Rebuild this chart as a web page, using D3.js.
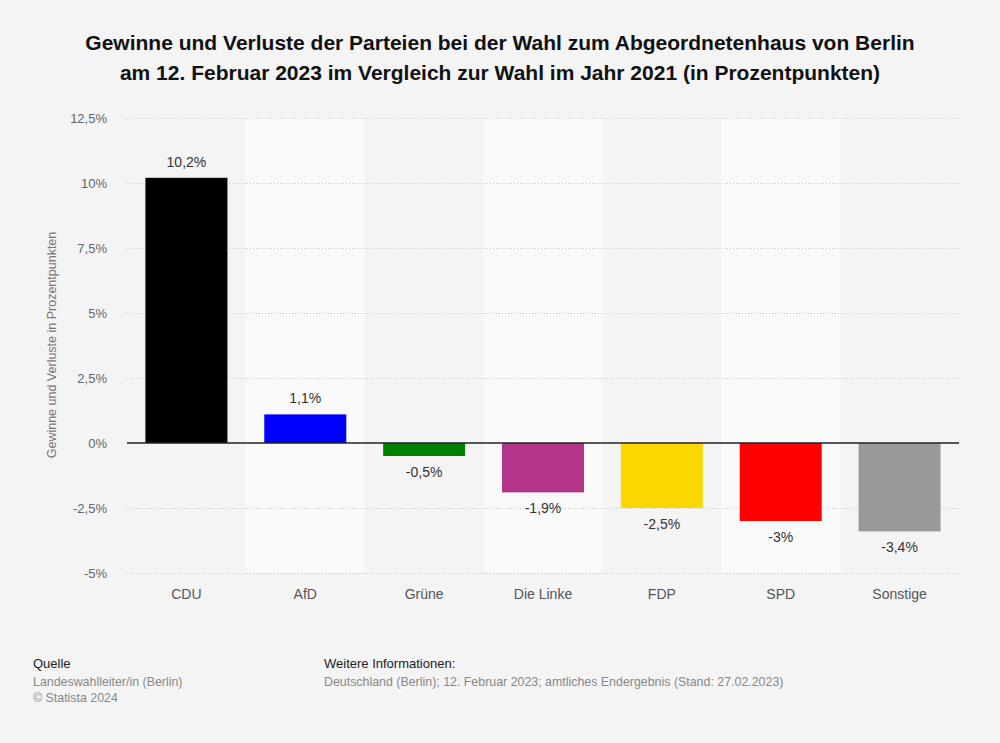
<!DOCTYPE html>
<html><head><meta charset="utf-8">
<script src="https://cdn.jsdelivr.net/npm/d3@7"></script>
<style>
body{margin:0;background:#f4f4f4;}
svg{display:block;font-family:"Liberation Sans",Arial,Helvetica,sans-serif;}
</style></head>
<body><svg id="c" width="1000" height="743"></svg>
<script>
const categories = ["CDU","AfD","Grüne","Die Linke","FDP","SPD","Sonstige"];
const values = [10.2, 1.1, -0.5, -1.9, -2.5, -3, -3.4];
const colors = ["#000000","#0000ff","#008000","#b3358a","#fdd800","#ff0000","#999999"];
const yTicks = [-5,-2.5,0,2.5,5,7.5,10,12.5];
const titleLines = ["Gewinne und Verluste der Parteien bei der Wahl zum Abgeordnetenhaus von Berlin","am 12. Februar 2023 im Vergleich zur Wahl im Jahr 2021 (in Prozentpunkten)"];
const yTitle = "Gewinne und Verluste in Prozentpunkten";

const fmt = v => String(v).replace(".", ",") + "%";
const svg = d3.select("#c");
svg.append("rect").attr("width",1000).attr("height",743).attr("fill","#f4f4f4");

const L=127, R=959, T=118, B=573;
const x = d3.scaleBand().domain(categories).range([L,R]).paddingInner(0.31).paddingOuter(0.155);
const xb = d3.scaleBand().domain(categories).range([L,R]);
const y = d3.scaleLinear().domain([-5,12.5]).range([B,T]);

// alternating bands
svg.append("g").selectAll("rect").data(categories.filter((d,i)=>i%2===1)).join("rect")
  .attr("x",d=>xb(d)).attr("y",T).attr("width",xb.bandwidth()).attr("height",B-T).attr("fill","#fafafa");

// grid
svg.append("g").selectAll("line").data(yTicks.filter(t=>t!==0)).join("line")
  .attr("x1",L).attr("x2",R).attr("y1",d=>y(d)+0.5).attr("y2",d=>y(d)+0.5)
  .attr("stroke","#c8c8c8").attr("stroke-width",1).attr("stroke-dasharray","1,2");

// y tick labels
svg.append("g").selectAll("text").data(yTicks).join("text")
  .attr("x",107).attr("y",d=>y(d)+4.5).attr("text-anchor","end")
  .attr("font-size",13).attr("fill","#666").text(d=>fmt(d));

// y title
svg.append("text").attr("transform","translate(56,345) rotate(-90)")
  .attr("text-anchor","middle").attr("font-size",12.5).attr("fill","#777").text(yTitle);

// bars
svg.append("g").selectAll("rect").data(categories).join("rect")
  .attr("x",d=>x(d)).attr("width",x.bandwidth())
  .attr("y",(d,i)=>y(Math.max(0,values[i])))
  .attr("height",(d,i)=>Math.abs(y(values[i])-y(0)))
  .attr("fill",(d,i)=>colors[i]);

// zero line
svg.append("line").attr("x1",L).attr("x2",R).attr("y1",y(0)).attr("y2",y(0))
  .attr("stroke","#222").attr("stroke-width",1.5);

// value labels
svg.append("g").selectAll("text").data(categories).join("text")
  .attr("x",d=>x(d)+x.bandwidth()/2)
  .attr("y",(d,i)=>values[i]>=0 ? y(values[i])-11 : y(values[i])+21)
  .attr("text-anchor","middle").attr("font-size",14).attr("fill","#333")
  .text((d,i)=>fmt(values[i]));

// category labels
svg.append("g").selectAll("text").data(categories).join("text")
  .attr("x",d=>x(d)+x.bandwidth()/2).attr("y",599)
  .attr("text-anchor","middle").attr("font-size",14).attr("fill","#555").text(d=>d);

// title
svg.append("g").selectAll("text").data(titleLines).join("text")
  .attr("x",500).attr("y",(d,i)=>50+i*30).attr("text-anchor","middle")
  .attr("font-size",21).attr("font-weight","bold").attr("fill","#111").text(d=>d);

// footer
const foot = svg.append("g").attr("font-size",12.4);
foot.append("text").attr("x",33).attr("y",668).attr("fill","#222").attr("font-size",13).text("Quelle");
foot.append("text").attr("x",33).attr("y",686).attr("fill","#888").text("Landeswahlleiter/in (Berlin)");
foot.append("text").attr("x",33).attr("y",702).attr("fill","#888").text("© Statista 2024");
foot.append("text").attr("x",324).attr("y",668).attr("fill","#222").attr("font-size",13).text("Weitere Informationen:");
foot.append("text").attr("x",324).attr("y",686).attr("fill","#888").text("Deutschland (Berlin); 12. Februar 2023; amtliches Endergebnis (Stand: 27.02.2023)");
</script></body></html>
